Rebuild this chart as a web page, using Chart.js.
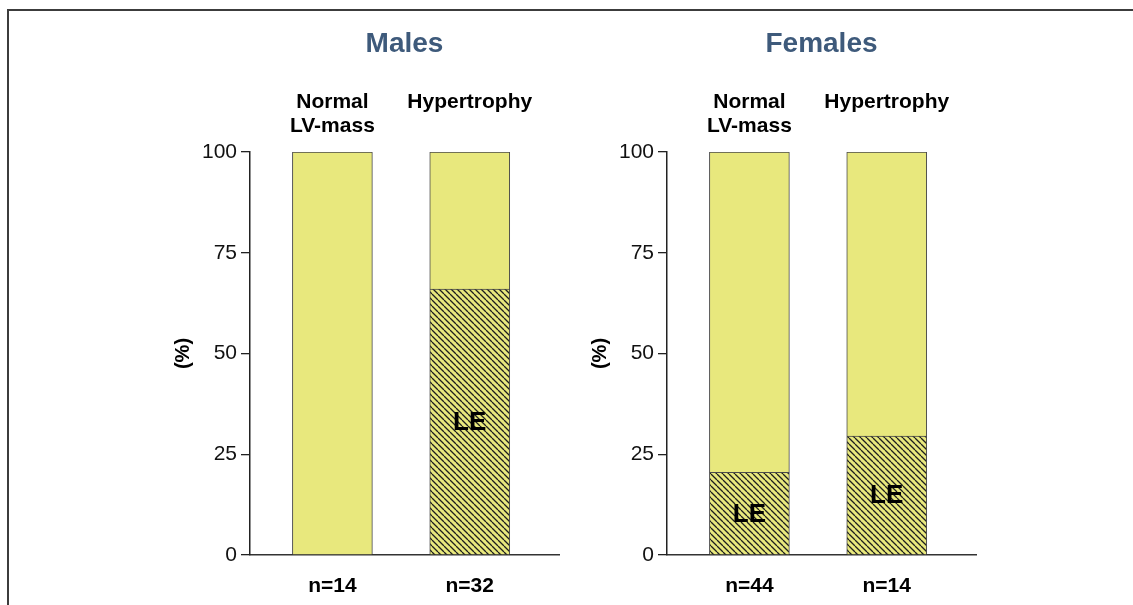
<!DOCTYPE html>
<html>
<head>
<meta charset="utf-8">
<script src="https://cdn.jsdelivr.net/npm/chart.js@4"></script>
<style>
    body { margin: 0; background: #fff; overflow: hidden; width: 1133px; height: 605px; position: relative; }
    #frame { position: absolute; left: 7px; top: 9px; width: 1200px; height: 700px; border-left: 2px solid #3c3c3c; border-top: 2px solid #3c3c3c; }
    canvas { position: absolute; top: 0; }
</style>
</head>
<body>
<div id="frame"></div>
<canvas id="malesChart" width="570" height="605" style="left:0px"></canvas>
<canvas id="femalesChart" width="570" height="605" style="left:417px"></canvas>
<script>
// Data (percent of group)
const groups = [["Normal", "LV-mass"], ["Hypertrophy", ""]];
const yTicks = [0, 25, 50, 75, 100];

const malesLE = [0, 66];
const malesOther = [100, 34];
const malesN = ["n=14", "n=32"];

const femalesLE = [20.5, 29.5];
const femalesOther = [79.5, 70.5];
const femalesN = ["n=44", "n=14"];

const FONT = "'Liberation Sans', Arial, Helvetica, sans-serif";
const YELLOW = "#e8e87d";

// diagonal hatch used for the LE part of the bars
function hatchPattern() {
    let size = 6;
    let tile = document.createElement("canvas");
    tile.width = size;
    tile.height = size;
    let c = tile.getContext("2d");
    c.fillStyle = YELLOW;
    c.fillRect(0, 0, size, size);
    c.strokeStyle = "#1e1e1e";
    c.lineWidth = 1.3;
    c.beginPath();
    for (let k = -1; k <= 1; k++) {
        c.moveTo(k * size, 0);
        c.lineTo(k * size + size, size);
    }
    c.stroke();
    return c.createPattern(tile, "repeat");
}

// writes "LE" in the middle of each hatched segment
const leLabels = {
    id: "leLabels",
    afterDatasetsDraw(chart) {
        let ctx = chart.ctx;
        let meta = chart.getDatasetMeta(0);
        ctx.save();
        ctx.font = "bold 26px " + FONT;
        ctx.fillStyle = "#000";
        ctx.textAlign = "center";
        ctx.textBaseline = "middle";
        meta.data.forEach(function(bar, i) {
            if (chart.data.datasets[0].data[i] > 0) {
                ctx.fillText("LE", bar.x, (bar.y + bar.base) / 2 + 1);
            }
        });
        ctx.restore();
    }
};

function makePanel(id, title, le, other, nLabels) {
    let positions = groups.map(function(g, i) { return i; });
    let xRange = { min: -0.6, max: 1.65 };
    return new Chart(document.getElementById(id).getContext("2d"), {
        type: "bar",
        data: {
            labels: positions,
            datasets: [
                { label: "LE", data: le, backgroundColor: hatchPattern(), borderColor: "#4a4a4a", borderWidth: 1, barThickness: 80 },
                { label: "other", data: other, backgroundColor: YELLOW, borderColor: "#4a4a4a", borderWidth: 1, barThickness: 80 }
            ]
        },
        options: {
            responsive: false,
            animation: false,
            layout: { padding: { left: 160, right: 11, top: 0, bottom: 0 } },
            plugins: {
                legend: { display: false },
                tooltip: { enabled: false },
                title: {
                    display: true,
                    text: title,
                    fullSize: false,
                    color: "#3e5a7b",
                    font: { family: FONT, size: 28, weight: "bold", lineHeight: 1.2 },
                    padding: { top: 27, bottom: 0 }
                }
            },
            scales: {
                x: {
                    type: "linear",
                    position: "bottom",
                    min: xRange.min,
                    max: xRange.max,
                    offset: false,
                    stacked: true,
                    grid: { display: false, drawTicks: false, offset: false },
                    border: { display: true, color: "#333", width: 1.5 },
                    afterBuildTicks: function(axis) { axis.ticks = positions.map(function(p) { return { value: p }; }); },
                    afterFit: function(axis) { axis.height = 50; },
                    ticks: {
                        padding: 19,
                        color: "#000",
                        font: { family: FONT, size: 21, weight: "bold" },
                        callback: function(value) { return nLabels[value]; }
                    }
                },
                xTop: {
                    type: "linear",
                    position: "top",
                    min: xRange.min,
                    max: xRange.max,
                    offset: false,
                    grid: { display: false, drawTicks: false, offset: false },
                    border: { display: false },
                    afterBuildTicks: function(axis) { axis.ticks = positions.map(function(p) { return { value: p }; }); },
                    afterFit: function(axis) { axis.height = 152 - 27 - 33.6; },
                    ticks: {
                        padding: 14,
                        color: "#000",
                        font: { family: FONT, size: 21, weight: "bold", lineHeight: 1.13 },
                        callback: function(value) { return groups[value]; }
                    }
                },
                y: {
                    min: 0,
                    max: 100,
                    stacked: true,
                    afterBuildTicks: function(axis) { axis.ticks = yTicks.map(function(v) { return { value: v }; }); },
                    afterFit: function(axis) { axis.width = 90; },
                    grid: { display: true, drawOnChartArea: false, drawTicks: true, tickLength: 9, color: "#222", lineWidth: 1.3 },
                    border: { display: true, color: "#222", width: 1.5 },
                    ticks: {
                        padding: 4,
                        color: "#111",
                        font: { family: FONT, size: 21 }
                    },
                    title: {
                        display: true,
                        text: "(%)",
                        color: "#000",
                        font: { family: FONT, size: 20, weight: "bold", lineHeight: 1.2 },
                        padding: { top: 11, bottom: 0 }
                    }
                }
            }
        },
        plugins: [leLabels]
    });
}

makePanel("malesChart", "Males", malesLE, malesOther, malesN);
makePanel("femalesChart", "Females", femalesLE, femalesOther, femalesN);
</script>
</body>
</html>
